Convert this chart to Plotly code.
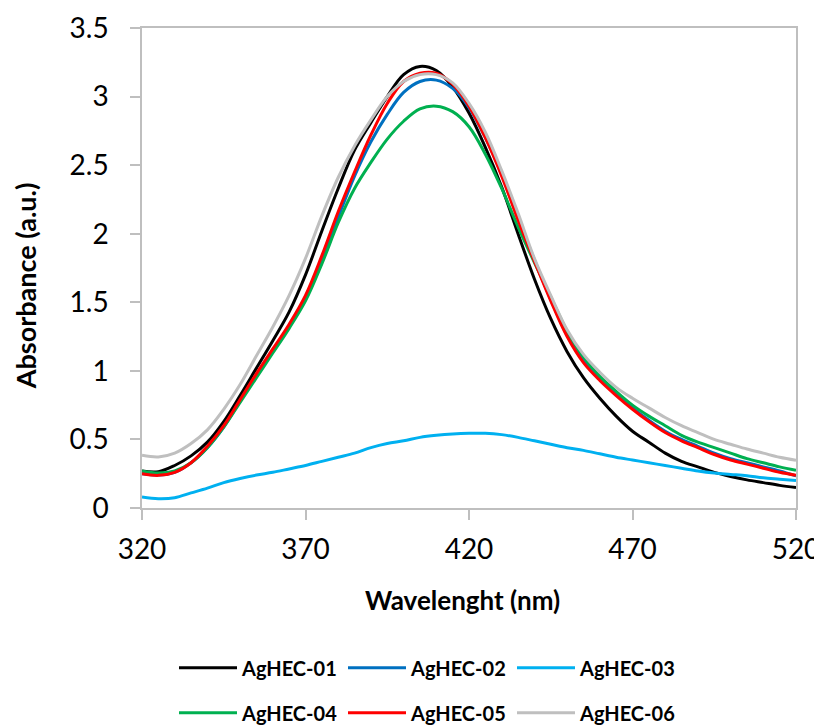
import plotly.graph_objects as go

wavelength = [320, 325, 330, 335, 340, 345, 350, 355, 360, 365, 370, 375, 380, 385, 390,
              395, 400, 405, 410, 415, 420, 425, 430, 435, 440, 445, 450, 455, 460, 465,
              470, 475, 480, 485, 490, 495, 500, 505, 510, 515, 520]

aghec_01 = [0.27, 0.265, 0.31, 0.38, 0.48, 0.63, 0.82, 1.02, 1.22, 1.43, 1.70, 2.02, 2.33, 2.61, 2.81,
            3.00, 3.16, 3.22, 3.19, 3.07, 2.88, 2.63, 2.34, 2.00, 1.67, 1.38, 1.14, 0.95, 0.80, 0.67,
            0.56, 0.48, 0.40, 0.34, 0.30, 0.26, 0.23, 0.205, 0.185, 0.165, 0.149]

aghec_02 = [0.25, 0.24, 0.26, 0.33, 0.44, 0.59, 0.78, 0.97, 1.15, 1.33, 1.53, 1.81, 2.12, 2.42, 2.67,
            2.87, 3.03, 3.11, 3.12, 3.06, 2.92, 2.70, 2.43, 2.11, 1.81, 1.52, 1.26, 1.07, 0.94, 0.83,
            0.73, 0.64, 0.56, 0.50, 0.45, 0.40, 0.36, 0.33, 0.30, 0.27, 0.235]

aghec_03 = [0.08, 0.068, 0.075, 0.11, 0.145, 0.185, 0.215, 0.24, 0.26, 0.285, 0.31, 0.34, 0.37, 0.40, 0.44,
            0.47, 0.49, 0.515, 0.53, 0.54, 0.545, 0.545, 0.535, 0.515, 0.49, 0.465, 0.44, 0.42, 0.395, 0.37,
            0.35, 0.33, 0.31, 0.29, 0.27, 0.255, 0.245, 0.235, 0.22, 0.21, 0.20]

aghec_04 = [0.27, 0.255, 0.27, 0.33, 0.44, 0.59, 0.77, 0.95, 1.13, 1.31, 1.51, 1.78, 2.08, 2.33, 2.52,
            2.69, 2.82, 2.91, 2.93, 2.89, 2.78, 2.58, 2.33, 2.05, 1.79, 1.54, 1.29, 1.10, 0.96, 0.85,
            0.75, 0.67, 0.60, 0.53, 0.48, 0.44, 0.40, 0.36, 0.33, 0.30, 0.275]

aghec_05 = [0.25, 0.238, 0.26, 0.33, 0.45, 0.60, 0.79, 0.98, 1.16, 1.34, 1.55, 1.84, 2.16, 2.45, 2.72,
            2.95, 3.11, 3.17, 3.17, 3.09, 2.93, 2.70, 2.42, 2.10, 1.80, 1.51, 1.25, 1.06, 0.93, 0.82,
            0.72, 0.63, 0.55, 0.49, 0.44, 0.39, 0.35, 0.32, 0.29, 0.26, 0.238]

aghec_06 = [0.384, 0.372, 0.40, 0.47, 0.57, 0.72, 0.90, 1.11, 1.32, 1.55, 1.82, 2.13, 2.41, 2.64, 2.83,
            3.00, 3.11, 3.16, 3.16, 3.10, 2.95, 2.74, 2.46, 2.15, 1.82, 1.55, 1.30, 1.12, 0.99, 0.88,
            0.80, 0.73, 0.66, 0.60, 0.55, 0.50, 0.465, 0.43, 0.40, 0.37, 0.348]

series_names = ["AgHEC-01", "AgHEC-02", "AgHEC-03", "AgHEC-04", "AgHEC-05", "AgHEC-06"]
series_values = [aghec_01, aghec_02, aghec_03, aghec_04, aghec_05, aghec_06]
series_colors = ["#000000", "#0070C0", "#00B0F0", "#00B050", "#FF0000", "#BFBFBF"]
legend_ids = ["legend", "legend", "legend", "legend2", "legend2", "legend2"]

x_ticks = [320, 370, 420, 470, 520]
y_ticks = [0, 0.5, 1, 1.5, 2, 2.5, 3, 3.5]
y_tick_labels = ["0", "0.5", "1", "1.5", "2", "2.5", "3", "3.5"]

FONT = "Lato"

fig = go.Figure()
for name, vals, col, lg in zip(series_names, series_values, series_colors, legend_ids):
    fig.add_trace(go.Scatter(
        x=wavelength, y=vals, name=name, mode="lines",
        line=dict(color=col, width=3, shape="spline", smoothing=1.0),
        legend=lg,
    ))

axis_common = dict(
    showgrid=False, zeroline=False, showline=True, linecolor="#BFBFBF", linewidth=1.5,
    ticks="outside", ticklen=10, tickwidth=1.5, tickcolor="#BFBFBF",
    tickfont=dict(family=FONT, size=28, color="#000000"),
    mirror=True, automargin=False,
)

fig.update_xaxes(range=[320, 520], tickvals=x_ticks, ticklabelstandoff=6, **axis_common)
fig.update_yaxes(range=[0, 3.5], tickvals=y_ticks, ticktext=y_tick_labels,
                 ticklabelstandoff=16, **axis_common)

legend_common = dict(
    orientation="h", xanchor="left", yanchor="middle",
    font=dict(family=FONT, size=20, color="#000000", weight="bold"),
    entrywidth=96, entrywidthmode="pixels", itemwidth=58,
    bgcolor="rgba(0,0,0,0)", tracegroupgap=0,
)

# page body has an 8px margin, so the figure is sized to fit the 822x727 window
fig.update_layout(
    width=814, height=719,
    margin=dict(l=134, r=26, t=20, b=219, autoexpand=False),
    paper_bgcolor="white", plot_bgcolor="white",
    showlegend=True,
    legend=dict(x=(174 - 142) / 654, y=(508 - 668) / 480.5, **legend_common),
    legend2=dict(x=(174 - 142) / 654, y=(508 - 713) / 480.5, **legend_common),
    annotations=[
        dict(text="Wavelenght (nm)", xref="paper", yref="paper",
             x=(462 - 142) / 654, y=(508 - 600) / 480.5, showarrow=False,
             xanchor="center", yanchor="middle",
             font=dict(family=FONT, size=26, color="#000000", weight="bold")),
        dict(text="Absorbance (a.u.)", xref="paper", yref="paper",
             x=(25 - 142) / 654, y=(508 - 286) / 480.5, showarrow=False, textangle=-90,
             xanchor="center", yanchor="middle",
             font=dict(family=FONT, size=27, color="#000000", weight="bold")),
    ],
)

fig.write_html("out.html")
